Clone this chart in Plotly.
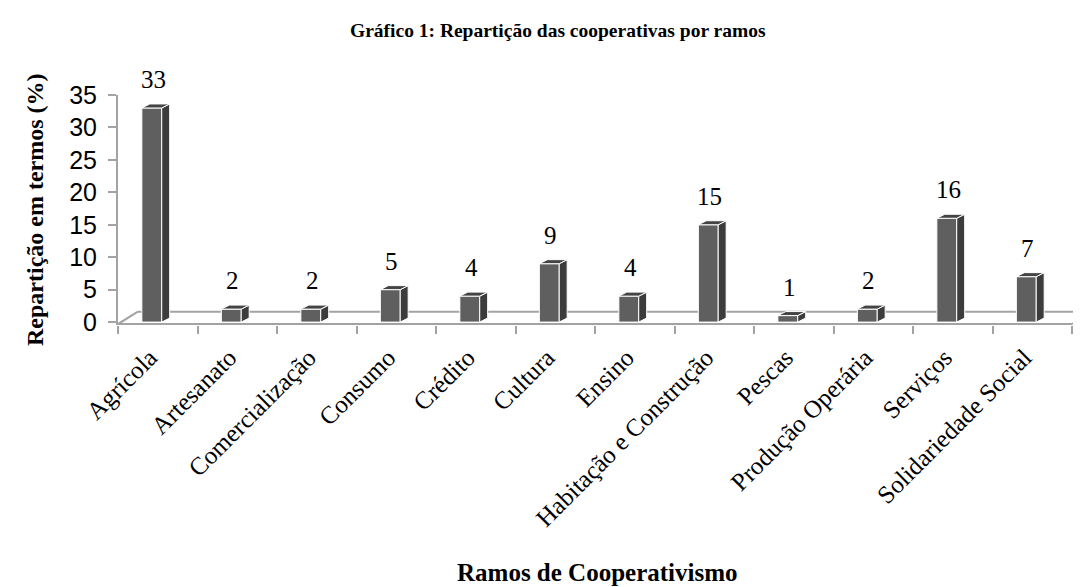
import plotly.graph_objects as go

categories = ["Agrícola", "Artesanato", "Comercialização", "Consumo", "Crédito",
              "Cultura", "Ensino", "Habitação e Construção", "Pescas",
              "Produção Operária", "Serviços", "Solidariedade Social"]
values = [33, 2, 2, 5, 4, 9, 4, 15, 1, 2, 16, 7]
y_ticks = [0, 5, 10, 15, 20, 25, 30, 35]

title_text = "Gráfico 1: Repartição das cooperativas por ramos"
x_title = "Ramos de Cooperativismo"
y_title = "Repartição em termos (%)"

# page body has an 8px margin: the figure is drawn from (8, 8)
PAGE = 8
W, H = 1081 - PAGE, 587 - PAGE
ML, MR, MT = 118 - PAGE, 0, 95 - PAGE
PW, PH = 1081 - 118, 230
MB = H - MT - PH

n = len(categories)
idx = list(range(n))
unit_x = 79.5
x_range = [-0.5, -0.5 + PW / unit_x]
y_range = [-0.45, 35]

FRONT = "#5f5f5f"
SIDE = "#3c3c3c"
TOP = "#444444"
GRID = "#a3a3a3"
SERIF = "Liberation Serif, Times New Roman, serif"
SANS = "Liberation Sans, Arial, sans-serif"

off, bw = -0.2, 0.25   # front face offset/width (category units)
dx, dy = 0.1, 0.62     # depth offsets

fig = go.Figure()
fig.add_trace(go.Bar(x=idx, y=values, width=bw, offset=off,
                     marker=dict(color=FRONT, line=dict(color="white", width=1)),
                     hoverinfo="skip", showlegend=False))
fig.add_trace(go.Scatter(x=idx, y=[0] * n, xaxis="x2", mode="markers",
                         marker=dict(opacity=0), hoverinfo="skip", showlegend=False))

shapes = []
yb = 1.6
shapes.append(dict(type="line", xref="x", yref="y", x0=-0.5, x1=n - 0.5, y0=-0.3, y1=-0.3,
                   line=dict(color=GRID, width=2), layer="below"))
shapes.append(dict(type="line", xref="x", yref="y", x0=-0.25, x1=x_range[1] + 0.5, y0=yb, y1=yb,
                   line=dict(color=GRID, width=2), layer="below"))
shapes.append(dict(type="line", xref="x", yref="y", x0=-0.5, x1=-0.25, y0=-0.3, y1=yb,
                   line=dict(color=GRID, width=2), layer="below"))
shapes.append(dict(type="line", xref="x", yref="y", x0=n - 0.5, x1=n - 0.25, y0=-0.3, y1=yb,
                   line=dict(color=GRID, width=2), layer="below"))

for i, v in zip(idx, values):
    xl = i + off
    xr = i + off + bw
    side = f"M {xr},0 L {xr+dx},{dy} L {xr+dx},{v+dy} L {xr},{v} Z"
    top = f"M {xl},{v} L {xl+dx},{v+dy} L {xr+dx},{v+dy} L {xr},{v} Z"
    shapes.append(dict(type="path", xref="x", yref="y", path=side, fillcolor=SIDE,
                       line=dict(color="white", width=1), layer="above"))
    shapes.append(dict(type="path", xref="x", yref="y", path=top, fillcolor=TOP,
                       line=dict(color="white", width=1), layer="above"))

annotations = []
for i, v in zip(idx, values):
    annotations.append(dict(x=i + off + bw / 2 + 0.02, y=v, xref="x", yref="y",
                            text=str(v), showarrow=False, yanchor="bottom", yshift=13,
                            font=dict(family=SERIF, size=25, color="black")))

def px(xp):
    return (xp - 118) / PW

def py(yp):
    return (325 - yp) / PH

annotations.append(dict(x=px(558), y=py(30), xref="paper", yref="paper",
                        text="<b>" + title_text + "</b>", showarrow=False,
                        xanchor="center", yanchor="middle",
                        font=dict(family=SERIF, size=19.5, color="black")))
annotations.append(dict(x=px(597), y=py(572), xref="paper", yref="paper",
                        text="<b>" + x_title + "</b>", showarrow=False,
                        xanchor="center", yanchor="middle",
                        font=dict(family=SERIF, size=25, color="black")))
annotations.append(dict(x=px(35), y=py(210), xref="paper", yref="paper",
                        text="<b>" + y_title + "</b>", showarrow=False, textangle=-90,
                        xanchor="center", yanchor="middle",
                        font=dict(family=SERIF, size=24, color="black")))

lab_shift = -0.1
fig.update_layout(
    width=W, height=H,
    margin=dict(l=ML, r=MR, t=MT, b=MB, pad=0, autoexpand=False),
    paper_bgcolor="white", plot_bgcolor="white",
    showlegend=False,
    shapes=shapes, annotations=annotations,
    xaxis=dict(range=x_range, tickmode="array",
               tickvals=[i - 0.5 for i in range(n + 1)],
               ticktext=[""] * (n + 1),
               ticks="outside", ticklen=8, tickwidth=2, tickcolor=GRID,
               showgrid=False, zeroline=False, showline=False, fixedrange=True),
    xaxis2=dict(range=[x_range[0] - lab_shift, x_range[1] - lab_shift],
                overlaying="x", anchor="y", side="bottom",
                tickmode="array", tickvals=idx, ticktext=categories,
                tickangle=-45, ticks="", ticklabelstandoff=12,
                tickfont=dict(family=SERIF, size=25, color="black"),
                showgrid=False, zeroline=False, showline=False),
    yaxis=dict(range=y_range, tickmode="array", tickvals=y_ticks,
               ticks="outside", ticklen=8, tickwidth=2, tickcolor=GRID,
               ticklabelstandoff=6,
               tickfont=dict(family=SANS, size=25, color="black"),
               showgrid=False, zeroline=False, showline=True, linecolor=GRID, linewidth=2),
)

fig.write_html("out.html")
